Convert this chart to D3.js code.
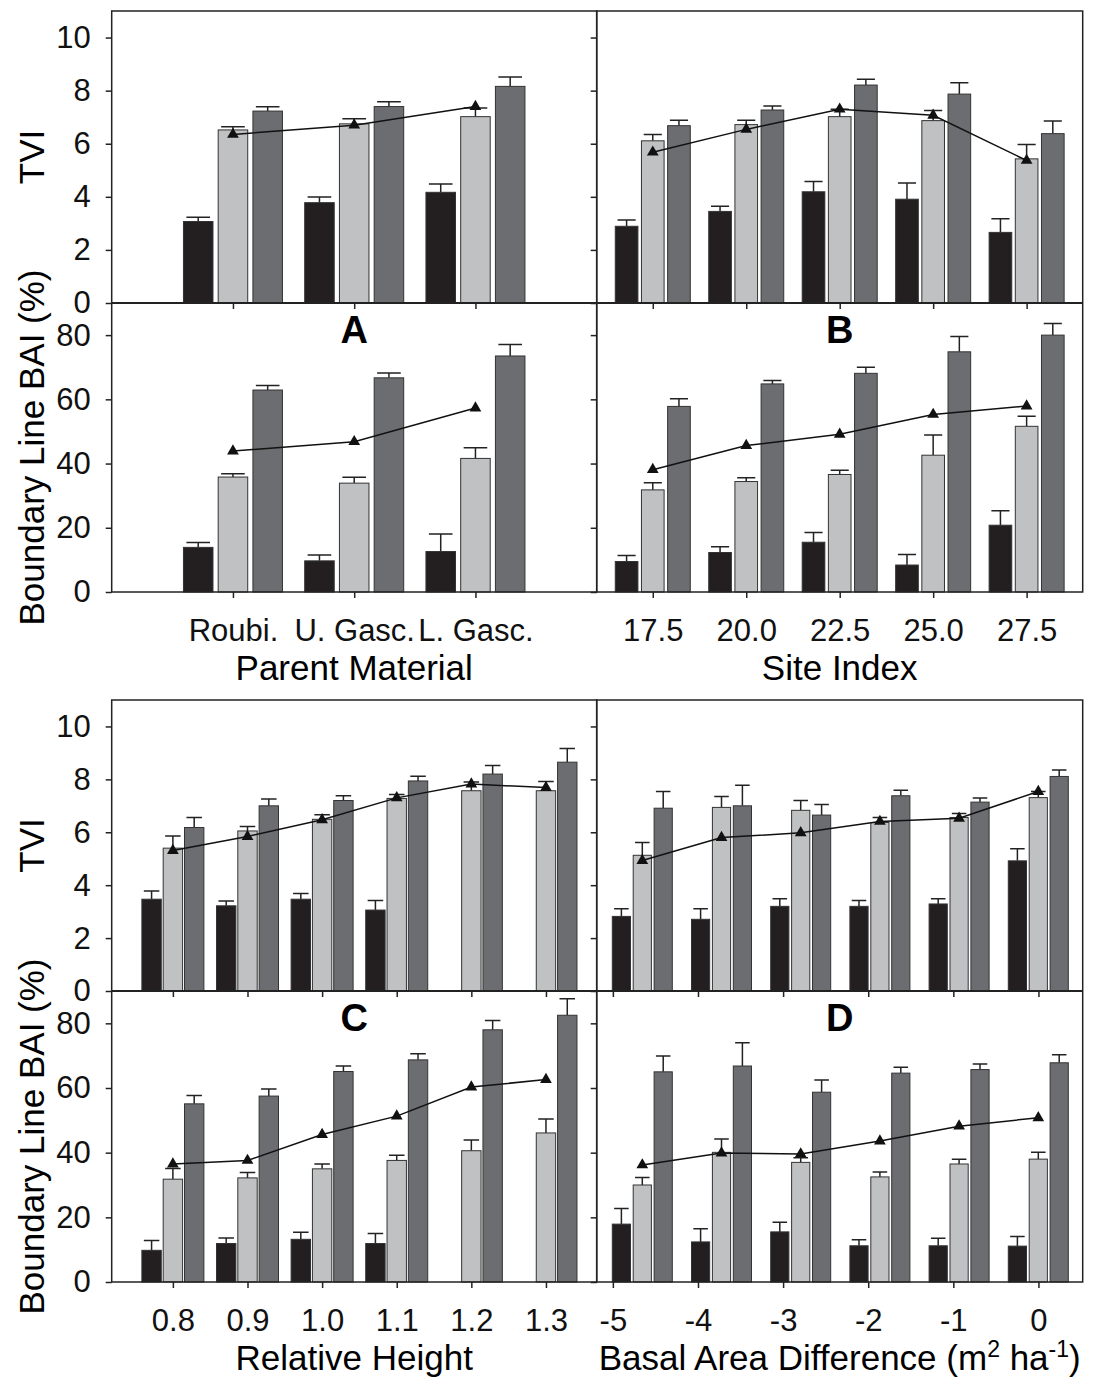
<!DOCTYPE html>
<html>
<head>
<meta charset="utf-8">
<script src="https://cdn.jsdelivr.net/npm/d3@7"></script>
<style>
  body { margin: 0; background: #fff; }
  text { font-family: "Liberation Sans", Arial, Helvetica, sans-serif; }
</style>
</head>
<body>
<div id="wrapper"></div>
<script>
// three bar series per group (black, light grey, dark grey) + triangle line
const seriesKeys = ["black", "light", "dark"];

// A - parent material
const parentCats = ["Roubi.", "U. Gasc.", "L. Gasc."];
const parentTvi = [[3.07, 6.52, 7.23], [3.78, 6.75, 7.40], [4.17, 7.02, 8.16]];
const parentTviErr = [[0.16, 0.12, 0.16], [0.21, 0.19, 0.18], [0.31, 0.33, 0.35]];
const parentTviLine = [6.35, 6.7, 7.4];
const parentBai = [[13.9, 35.8, 62.9], [9.7, 33.9, 66.7], [12.6, 41.6, 73.5]];
const parentBaiErr = [[1.5, 1.0, 1.4], [1.8, 1.8, 1.5], [5.5, 3.3, 3.6]];
const parentBaiLine = [43.9, 46.8, 57.3];

// B - site index
const siteCats = [17.5, 20.0, 22.5, 25.0, 27.5];
const siteTvi = [[2.89, 6.11, 6.68], [3.45, 6.72, 7.27], [4.19, 7.02, 8.21], [3.91, 6.87, 7.87], [2.66, 5.43, 6.38]];
const siteTviErr = [[0.24, 0.24, 0.20], [0.19, 0.16, 0.15], [0.39, 0.28, 0.22], [0.61, 0.38, 0.43], [0.51, 0.54, 0.48]];
const siteTviLine = [5.68, 6.54, 7.30, 7.07, 5.37];
const siteBai = [[9.5, 31.8, 57.8], [12.3, 34.4, 64.8], [15.5, 36.6, 68.1], [8.4, 42.6, 74.8], [20.8, 51.6, 80.0]];
const siteBaiErr = [[1.9, 2.2, 2.4], [1.8, 1.2, 1.1], [3.0, 1.3, 1.9], [3.3, 6.3, 4.8], [4.5, 3.1, 3.6]];
const siteBaiLine = [38.1, 45.6, 49.1, 55.3, 57.9];

// C - relative height
const heightCats = [0.8, 0.9, 1.0, 1.1, 1.2, 1.3];
const heightTvi = [[3.47, 5.40, 6.18], [3.22, 6.05, 7.00], [3.47, 6.49, 7.20], [3.06, 7.28, 7.94], [null, 7.57, 8.20], [null, 7.57, 8.65]];
const heightTviErr = [[0.31, 0.46, 0.38], [0.18, 0.17, 0.26], [0.22, 0.17, 0.18], [0.36, 0.15, 0.18], [null, 0.33, 0.32], [null, 0.35, 0.52]];
const heightTviLine = [5.31, 5.84, 6.47, 7.30, 7.82, 7.69];
const heightBai = [[9.8, 31.8, 55.1], [11.9, 32.2, 57.5], [13.2, 35.0, 65.1], [11.9, 37.6, 68.7], [null, 40.6, 78.0], [null, 46.1, 82.5]];
const heightBaiErr = [[3.0, 3.3, 2.6], [1.7, 1.7, 2.2], [2.2, 1.5, 1.7], [3.1, 1.6, 1.9], [null, 3.3, 2.9], [null, 4.3, 5.1]];
const heightBaiLine = [36.5, 37.6, 45.6, 51.3, 60.3, 62.6];

// D - basal area difference
const basalCats = [-5, -4, -3, -2, -1, 0];
const basalTvi = [[2.82, 5.13, 6.91], [2.71, 6.94, 7.00], [3.20, 6.83, 6.65], [3.20, 6.37, 7.38], [3.29, 6.56, 7.14], [4.92, 7.31, 8.11]];
const basalTviErr = [[0.29, 0.48, 0.63], [0.40, 0.41, 0.78], [0.29, 0.37, 0.40], [0.22, 0.19, 0.21], [0.20, 0.15, 0.16], [0.46, 0.23, 0.24]];
const basalTviLine = [4.93, 5.80, 5.98, 6.41, 6.53, 7.54];
const basalBai = [[17.9, 30.0, 65.0], [12.4, 40.1, 66.8], [15.5, 37.0, 58.7], [11.2, 32.5, 64.6], [11.2, 36.5, 65.7], [11.1, 38.0, 67.8]];
const basalBaiErr = [[4.8, 2.3, 4.9], [4.1, 4.1, 7.2], [3.0, 1.4, 3.8], [1.9, 1.5, 1.8], [2.3, 1.5, 1.7], [3.0, 2.1, 2.5]];
const basalBaiLine = [36.2, 39.9, 39.6, 43.6, 48.2, 50.8];

const tviTicks = [0, 2, 4, 6, 8, 10];
const baiTicks = [0, 20, 40, 60, 80];

const colors = { black: "#231f20", light: "#c0c1c3", dark: "#6c6d71" };
const ink = "#222";

const svg = d3.select("#wrapper")
  .append("svg")
  .attr("width", 1096)
  .attr("height", 1382);

const leftX = [111.7, 596.7];
const rightX = [596.7, 1082.7];
const topRows = { yTop: 11, yMid: 303, yBot: 592 };
const botRows = { yTop: 700, yMid: 991, yBot: 1282 };

function styleAxis(g, labels) {
  g.select(".domain").remove();
  g.selectAll("line").attr("stroke", ink).attr("stroke-width", 1.5);
  g.selectAll("text")
    .attr("font-size", 31)
    .attr("font-family", "'Liberation Sans', Arial, sans-serif")
    .attr("fill", "#111");
  if (!labels) g.selectAll("text").remove();
}

function drawPanel(p) {
  const g = svg.append("g");
  const yTvi = d3.scaleLinear().domain([0, 11]).range([p.yMid, p.yTop]);
  const yBai = d3.scaleLinear().domain([0, 90]).range([p.yBot, p.yMid]);
  const x = p.x;
  // bar groups can sit on their own spacing (panel D)
  const xg = p.xBars || p.x;
  const sub = d3.scaleBand().domain(seriesKeys).range([0, p.groupW]).paddingInner(p.pad);
  const center = (i) => xg(p.cats[i]);

  const layers = [
    { vals: p.tvi, errs: p.tviErr, line: p.tviLine, y: yTvi },
    { vals: p.bai, errs: p.baiErr, line: p.baiLine, y: yBai }
  ];

  layers.forEach(({ vals, errs, line, y }) => {
    const rows = [];
    vals.forEach((row, i) => row.forEach((v, j) => {
      if (v != null) rows.push({ i, k: seriesKeys[j], v, e: errs[i][j] });
    }));

    const bx = (d) => center(d.i) - p.groupW / 2 + sub(d.k);

    // error bars first so the bar covers the stem
    g.append("g").selectAll("path")
      .data(rows)
      .join("path")
      .attr("d", (d) => {
        const cx = bx(d) + sub.bandwidth() / 2;
        const cap = sub.bandwidth() * 0.4;
        return `M${cx},${y(d.v)}V${y(d.v + d.e)}M${cx - cap},${y(d.v + d.e)}H${cx + cap}`;
      })
      .attr("stroke", ink)
      .attr("stroke-width", 1.5)
      .attr("fill", "none");

    g.append("g").selectAll("rect")
      .data(rows)
      .join("rect")
      .attr("x", bx)
      .attr("width", sub.bandwidth())
      .attr("y", (d) => y(d.v))
      .attr("height", (d) => y(0) - y(d.v))
      .attr("fill", (d) => colors[d.k])
      .attr("stroke", "#333")
      .attr("stroke-width", 1);

    const lineGen = d3.line()
      .x((d, i) => center(i))
      .y((d) => y(d));

    g.append("path")
      .attr("d", lineGen(line))
      .attr("fill", "none")
      .attr("stroke", "#111")
      .attr("stroke-width", 1.5);

    g.append("g").selectAll("path")
      .data(line)
      .join("path")
      .attr("transform", (d, i) => `translate(${center(i)},${y(d)})`)
      .attr("d", d3.symbol(d3.symbolTriangle, 60))
      .attr("fill", "#111");
  });

  // frame and middle axis line
  g.append("rect")
    .attr("x", p.x0)
    .attr("y", p.yTop)
    .attr("width", p.x1 - p.x0)
    .attr("height", p.yBot - p.yTop)
    .attr("fill", "none")
    .attr("stroke", ink)
    .attr("stroke-width", 1.5);

  g.append("line")
    .attr("x1", p.x0).attr("x2", p.x1)
    .attr("y1", p.yMid).attr("y2", p.yMid)
    .attr("stroke", ink)
    .attr("stroke-width", 2);

  // y axes
  g.append("g")
    .attr("transform", `translate(${p.x0},0)`)
    .call(d3.axisLeft(yTvi).tickValues(tviTicks).tickSize(6).tickPadding(15).tickSizeOuter(0))
    .call(styleAxis, p.yLabels);
  g.append("g")
    .attr("transform", `translate(${p.x0},0)`)
    .call(d3.axisLeft(yBai).tickValues(baiTicks).tickSize(6).tickPadding(15).tickSizeOuter(0))
    .call(styleAxis, p.yLabels);

  // x axes
  g.append("g")
    .attr("transform", `translate(0,${p.yMid})`)
    .call(d3.axisBottom(x).tickValues(p.cats).tickSize(6).tickSizeOuter(0))
    .call(styleAxis, false);
  g.append("g")
    .attr("transform", `translate(0,${p.yBot})`)
    .call(d3.axisBottom(x).tickValues(p.cats).tickSize(6).tickPadding(21).tickSizeOuter(0).tickFormat(p.fmt))
    .call(styleAxis, true);

  // panel letter
  const mid = (p.x0 + p.x1) / 2;
  g.append("text")
    .attr("x", mid)
    .attr("y", p.yMid + 40)
    .attr("text-anchor", "middle")
    .attr("font-size", 38)
    .attr("font-weight", "bold")
    .text(p.letter);

  // x title, pieces flagged true are superscripts
  const title = g.append("text")
    .attr("x", mid)
    .attr("y", p.yBot + 88)
    .attr("text-anchor", "middle")
    .attr("font-size", 35);
  let raised = false;
  p.title.forEach(([t, sup]) => {
    const span = title.append("tspan").text(t);
    if (sup) {
      span.attr("font-size", 23).attr("dy", raised ? 0 : -13);
      raised = true;
    } else if (raised) {
      span.attr("dy", 13);
      raised = false;
    }
  });

  // y titles on left panels
  if (p.yLabels) {
    g.append("text")
      .attr("transform", `translate(44,${(p.yTop + p.yMid) / 2}) rotate(-90)`)
      .attr("text-anchor", "middle")
      .attr("font-size", 35)
      .text("TVI");
    g.append("text")
      .attr("transform", `translate(44,${(p.yMid + p.yBot) / 2}) rotate(-90)`)
      .attr("text-anchor", "middle")
      .attr("font-size", 35)
      .text("Boundary Line BAI (%)");
  }
}

const fmt1 = d3.format(".1f");

drawPanel({
  ...topRows, x0: leftX[0], x1: leftX[1],
  x: d3.scalePoint().domain(parentCats).range(leftX).padding(1),
  cats: parentCats, fmt: (d) => d,
  tvi: parentTvi, tviErr: parentTviErr, tviLine: parentTviLine,
  bai: parentBai, baiErr: parentBaiErr, baiLine: parentBaiLine,
  groupW: 99, pad: 0.15, letter: "A", yLabels: true,
  title: [["Parent Material"]]
});

drawPanel({
  ...topRows, x0: rightX[0], x1: rightX[1],
  x: d3.scaleLinear().domain([16, 29]).range(rightX),
  cats: siteCats, fmt: fmt1,
  tvi: siteTvi, tviErr: siteTviErr, tviLine: siteTviLine,
  bai: siteBai, baiErr: siteBaiErr, baiLine: siteBaiLine,
  groupW: 75, pad: 0.135, letter: "B", yLabels: false,
  title: [["Site Index"]]
});

drawPanel({
  ...botRows, x0: leftX[0], x1: leftX[1],
  x: d3.scaleLinear().domain([0.718, 1.368]).range(leftX),
  cats: heightCats, fmt: fmt1,
  tvi: heightTvi, tviErr: heightTviErr, tviLine: heightTviLine,
  bai: heightBai, baiErr: heightBaiErr, baiLine: heightBaiLine,
  groupW: 62, pad: 0.09, letter: "C", yLabels: true,
  title: [["Relative Height"]]
});

drawPanel({
  ...botRows, x0: rightX[0], x1: rightX[1],
  x: d3.scaleLinear().domain([-5.19, 0.52]).range(rightX),
  xBars: d3.scaleLinear().domain([-5, 0]).range([642.3, 1038.3]),
  cats: basalCats, fmt: (d) => String(d),
  tvi: basalTvi, tviErr: basalTviErr, tviLine: basalTviLine,
  bai: basalBai, baiErr: basalBaiErr, baiLine: basalBaiLine,
  groupW: 60, pad: 0.13, letter: "D", yLabels: false,
  title: [["Basal Area Difference (m"], ["2", true], [" ha"], ["-1", true], [")"]]
});
</script>
</body>
</html>
